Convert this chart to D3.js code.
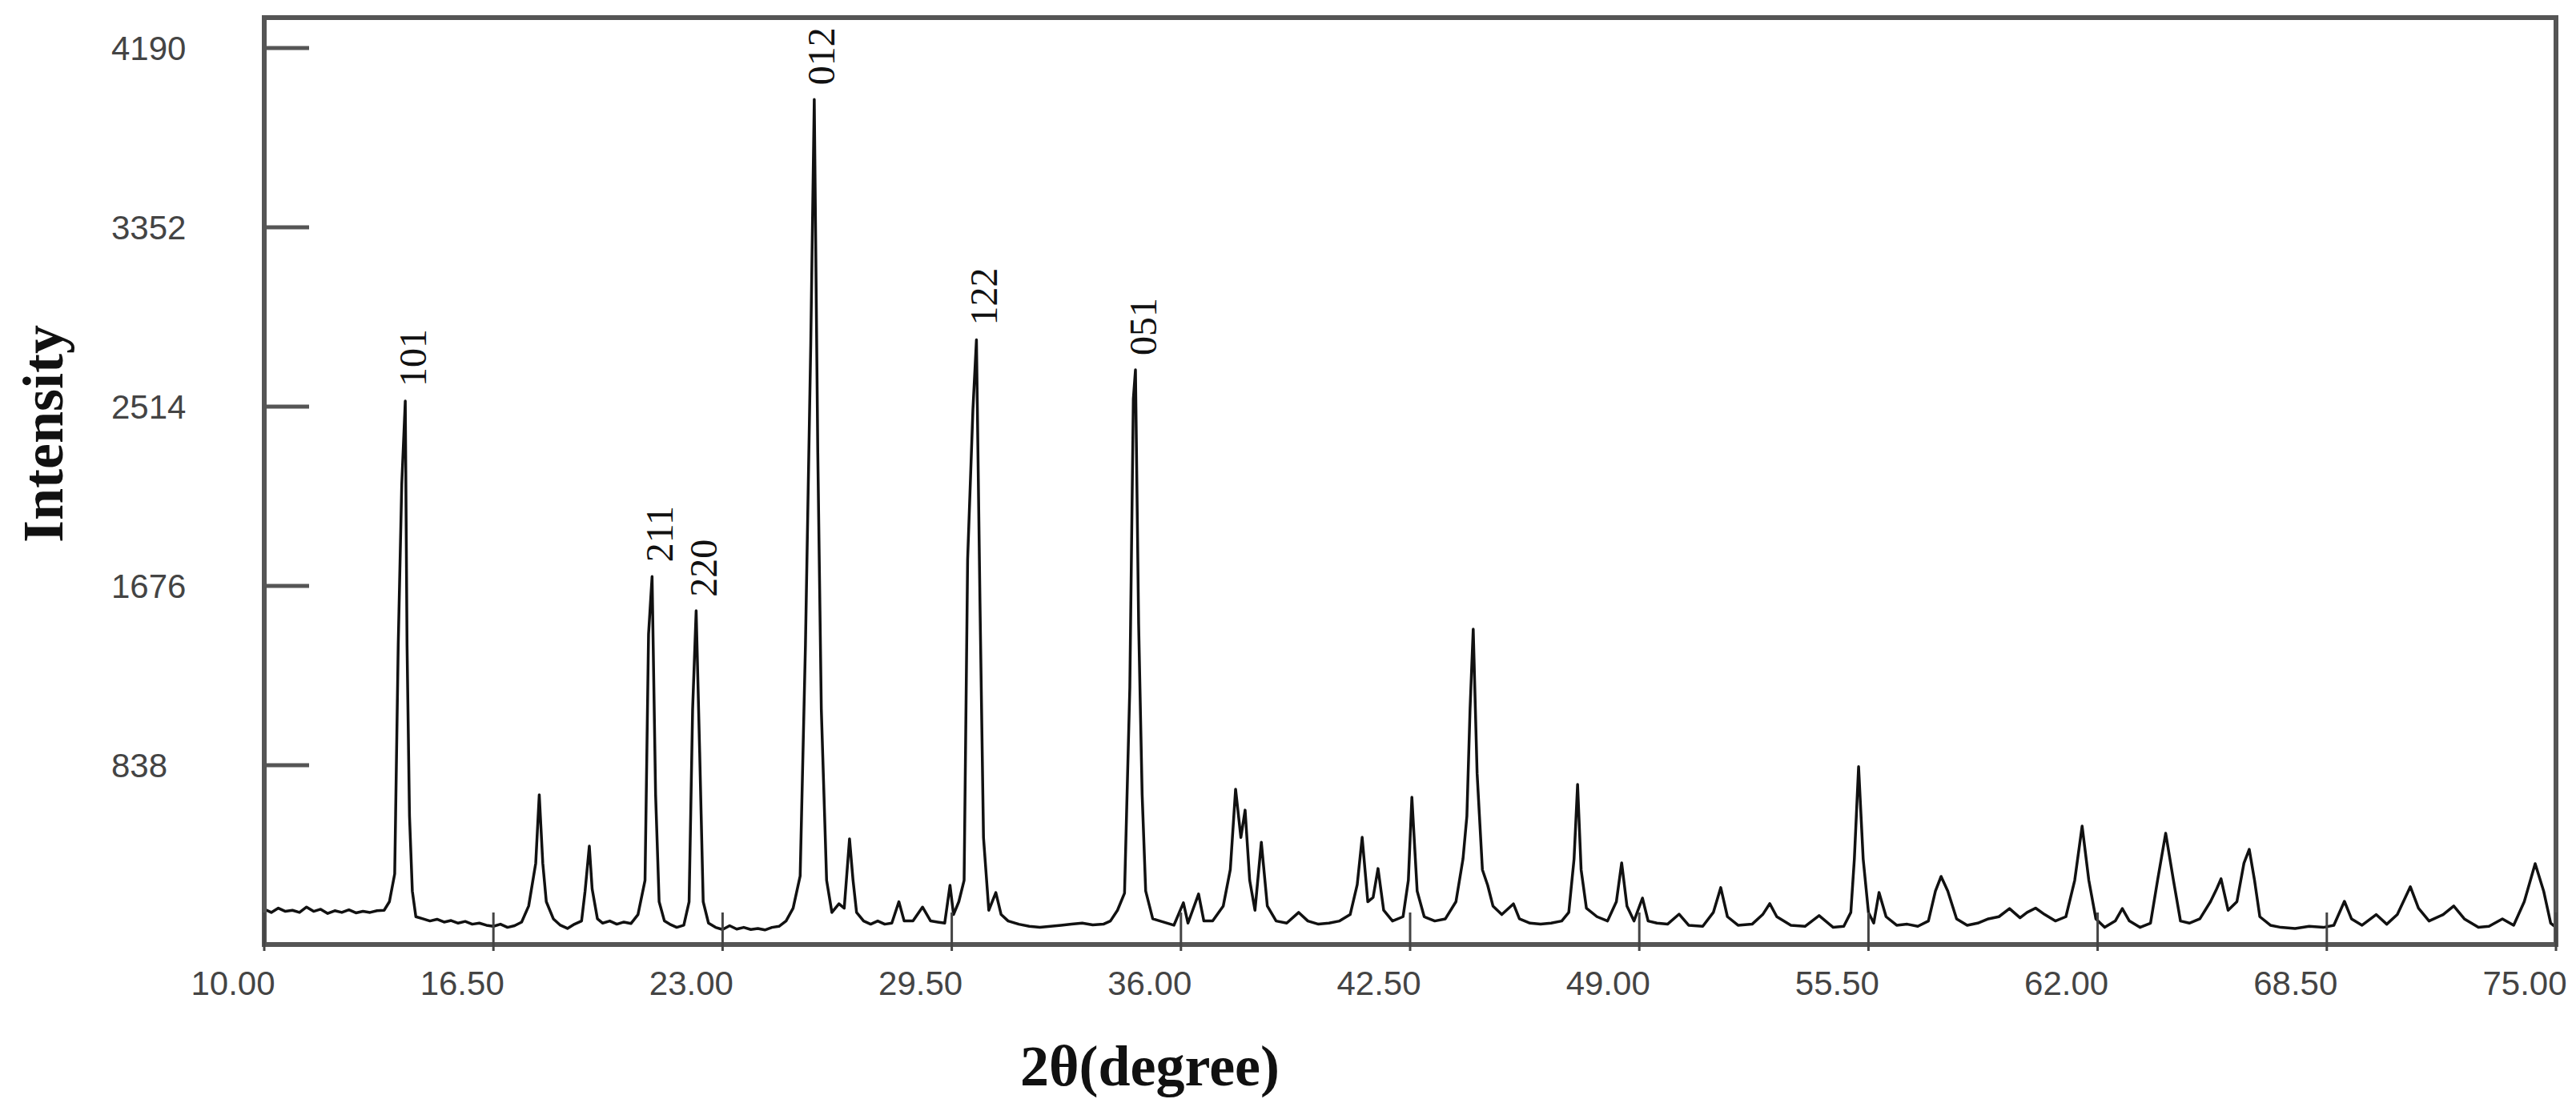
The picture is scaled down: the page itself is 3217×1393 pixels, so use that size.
<!DOCTYPE html>
<html>
<head>
<meta charset="utf-8">
<script src="https://cdn.jsdelivr.net/npm/d3@7"></script>
<style>
  body { margin: 0; background: #fff; }
  svg { display: block; }
</style>
</head>
<body>
<div id="xrdChart"></div>
<script>
const WIDTH = 3217;
const HEIGHT = 1393;

// scan: 2-theta (deg) and intensity
const twoTheta = [10.0,10.2,10.4,10.6,10.8,11.0,11.2,11.4,11.6,11.8,12.0,12.2,12.4,12.6,12.8,13.0,13.2,13.4,13.55,13.7,13.8,13.9,14.0,14.05,14.12,14.2,14.3,14.5,14.7,14.9,15.1,15.3,15.5,15.7,15.9,16.1,16.3,16.5,16.7,16.9,17.1,17.3,17.5,17.7,17.8,17.9,18.0,18.2,18.4,18.6,18.8,19.0,19.1,19.22,19.3,19.45,19.6,19.8,20.0,20.2,20.4,20.6,20.8,20.9,21.0,21.1,21.2,21.35,21.5,21.7,21.9,22.05,22.15,22.25,22.35,22.45,22.6,22.8,23.0,23.2,23.4,23.6,23.8,24.0,24.2,24.4,24.6,24.8,25.0,25.2,25.35,25.5,25.6,25.7,25.8,25.95,26.1,26.3,26.45,26.6,26.7,26.8,27.0,27.2,27.4,27.6,27.8,28.0,28.15,28.4,28.67,28.9,29.1,29.3,29.45,29.55,29.7,29.85,29.95,30.1,30.2,30.3,30.4,30.55,30.75,30.9,31.1,31.4,31.7,32.0,32.3,32.6,32.9,33.2,33.5,33.8,34.0,34.2,34.4,34.55,34.65,34.71,34.8,34.9,35.0,35.2,35.5,35.8,36.07,36.2,36.5,36.65,36.9,37.2,37.4,37.55,37.7,37.82,37.95,38.1,38.28,38.45,38.7,39.0,39.34,39.6,39.9,40.2,40.5,40.8,41.0,41.14,41.3,41.45,41.59,41.75,42.0,42.3,42.45,42.55,42.7,42.9,43.2,43.5,43.8,44.0,44.11,44.2,44.29,44.4,44.55,44.7,44.85,45.1,45.43,45.6,45.9,46.2,46.5,46.8,47.0,47.15,47.25,47.35,47.5,47.8,48.1,48.35,48.5,48.65,48.85,49.09,49.25,49.5,49.8,50.13,50.4,50.8,51.1,51.31,51.5,51.8,52.2,52.5,52.7,52.9,53.3,53.7,54.1,54.5,54.8,55.0,55.1,55.22,55.35,55.5,55.65,55.8,56.0,56.3,56.6,56.9,57.2,57.4,57.56,57.75,58.0,58.3,58.6,58.9,59.2,59.5,59.8,60.0,60.24,60.5,60.8,61.1,61.35,61.56,61.75,61.95,62.2,62.5,62.7,62.9,63.2,63.5,63.7,63.93,64.15,64.35,64.6,64.9,65.2,65.36,65.5,65.7,65.95,66.15,66.3,66.45,66.6,66.9,67.2,67.6,68.0,68.4,68.7,69.0,69.2,69.5,69.9,70.2,70.5,70.87,71.1,71.4,71.8,72.1,72.4,72.8,73.1,73.48,73.8,74.1,74.41,74.65,74.85,75.0];
const intensity = [165,150,170,155,160,150,175,155,165,145,158,150,162,148,155,150,158,160,200,330,1400,2150,2540,1400,600,250,130,120,110,118,105,112,100,108,95,100,90,85,95,80,88,105,180,380,700,380,200,120,90,75,95,110,250,460,260,120,100,110,95,105,98,140,300,1450,1720,700,200,110,95,80,90,200,1100,1560,900,200,100,80,70,88,72,80,70,75,68,80,85,110,170,320,1400,2800,3950,2300,1100,300,150,190,170,494,300,150,110,95,110,95,100,200,110,110,175,110,105,100,277,140,200,300,1800,2500,2826,1600,500,160,243,140,110,95,85,80,85,90,95,100,92,95,110,160,240,1200,2550,2686,1500,700,250,120,105,90,195,100,236,110,110,180,350,726,500,628,300,160,478,180,110,100,150,110,95,100,110,140,280,501,200,220,355,160,110,130,300,688,250,130,110,120,200,400,600,1100,1474,800,350,277,180,140,190,120,100,95,100,110,150,400,748,350,170,130,110,200,382,180,110,217,110,100,95,142,90,85,150,266,130,90,95,140,191,130,90,85,135,80,85,150,400,831,400,150,100,243,130,90,95,85,110,250,318,250,120,90,100,120,130,168,125,150,170,140,110,130,300,554,300,120,80,110,168,110,80,100,300,520,300,110,100,120,200,254,307,160,200,380,445,300,130,90,80,75,85,80,90,202,120,90,140,95,140,270,170,110,140,180,120,80,85,120,90,200,378,250,100,80];

const yTicks = [838, 1676, 2514, 3352, 4190];
const xTicks = [10, 16.5, 23, 29.5, 36, 42.5, 49, 55.5, 62, 68.5, 75];

const peakLabels = ["101", "211", "220", "012", "122", "051"];
const peakTheta = [14.0, 21.0, 22.25, 25.6, 30.2, 34.71];
const peakHeight = [2540, 1720, 1557, 3950, 2826, 2686];

const PLOT_LEFT = 330, PLOT_RIGHT = 3192, PLOT_TOP = 22, PLOT_BOTTOM = 1180;

const x = d3.scaleLinear().domain([10, 75]).range([PLOT_LEFT, PLOT_RIGHT]);
const y = d3.scaleLinear().domain([0, 838]).range([PLOT_BOTTOM, PLOT_BOTTOM - 224]);

const svg = d3.select("#xrdChart").append("svg")
    .attr("width", WIDTH).attr("height", HEIGHT);

svg.append("rect").attr("width", WIDTH).attr("height", HEIGHT).attr("fill", "#fff");

// the scan
const points = twoTheta.map((t, i) => [t, intensity[i]]);
svg.append("path")
    .datum(points)
    .attr("d", d3.line().x(d => x(d[0])).y(d => y(d[1])))
    .attr("fill", "none").attr("stroke", "#111").attr("stroke-width", 3.5)
    .attr("stroke-linejoin", "round");

// frame
svg.append("rect")
    .attr("x", PLOT_LEFT).attr("y", PLOT_TOP)
    .attr("width", PLOT_RIGHT - PLOT_LEFT).attr("height", PLOT_BOTTOM - PLOT_TOP)
    .attr("fill", "none").attr("stroke", "#555").attr("stroke-width", 6);

// y ticks, inside the frame
svg.selectAll(".ytick").data(yTicks).enter().append("line")
    .attr("x1", PLOT_LEFT).attr("x2", PLOT_LEFT + 56)
    .attr("y1", d => y(d)).attr("y2", d => y(d))
    .attr("stroke", "#555").attr("stroke-width", 5);

svg.selectAll(".ylab").data(yTicks).enter().append("text")
    .attr("x", 139).attr("y", d => y(d))
    .attr("dominant-baseline", "central")
    .attr("font-family", "Liberation Sans, Arial, sans-serif")
    .attr("font-size", 42).attr("fill", "#444")
    .text(d => d);

// x ticks
svg.selectAll(".xtick").data(xTicks).enter().append("line")
    .attr("x1", d => x(d)).attr("x2", d => x(d))
    .attr("y1", PLOT_BOTTOM - 40).attr("y2", PLOT_BOTTOM + 8)
    .attr("stroke", "#444").attr("stroke-width", 3);

svg.selectAll(".xlab").data(xTicks).enter().append("text")
    .attr("x", d => x(d) - 39).attr("y", 1228)
    .attr("text-anchor", "middle").attr("dominant-baseline", "central")
    .attr("font-family", "Liberation Sans, Arial, sans-serif")
    .attr("font-size", 42).attr("fill", "#444")
    .text(d => d.toFixed(2));

// peak indices
svg.selectAll(".peak").data(peakLabels).enter().append("text")
    .attr("transform", (d, i) => "translate(" + (x(peakTheta[i]) + 9) + "," + (y(peakHeight[i]) - 18) + ") rotate(-90)")
    .attr("dominant-baseline", "central")
    .attr("font-family", "Liberation Serif, Times New Roman, serif")
    .attr("font-size", 48).attr("fill", "#111")
    .text(d => d);

// axis titles
svg.append("text")
    .attr("transform", "translate(54,542) rotate(-90)")
    .attr("text-anchor", "middle").attr("dominant-baseline", "central")
    .attr("font-family", "Liberation Serif, Times New Roman, serif")
    .attr("font-weight", "bold").attr("font-size", 72).attr("fill", "#111")
    .text("Intensity");

svg.append("text")
    .attr("x", 1436).attr("y", 1332)
    .attr("text-anchor", "middle").attr("dominant-baseline", "central")
    .attr("font-family", "Liberation Serif, Times New Roman, serif")
    .attr("font-weight", "bold").attr("font-size", 72).attr("fill", "#111")
    .text("2θ(degree)");
</script>
</body>
</html>
